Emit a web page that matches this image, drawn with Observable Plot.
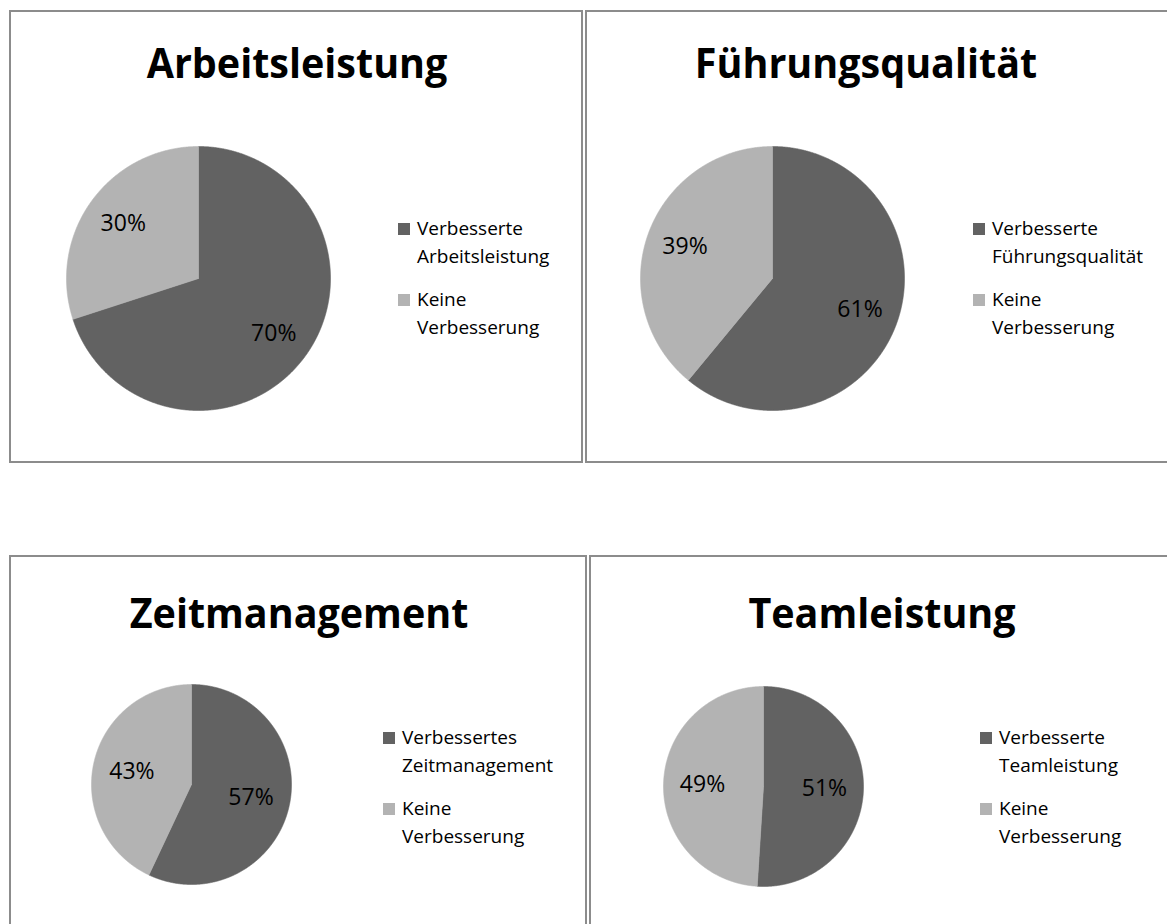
<!DOCTYPE html>
<html><head><meta charset="utf-8">
<script src="https://cdn.jsdelivr.net/npm/d3@7"></script>
<script src="https://cdn.jsdelivr.net/npm/@observablehq/plot@0.6"></script>
<style>
html,body{margin:0;padding:0;background:#fff;}
body{width:1167px;height:924px;overflow:hidden;position:relative;font-family:"Open Sans",sans-serif;color:#000;}
.panel{position:absolute;box-sizing:border-box;border:2px solid #8c8c8c;}
.abs{position:absolute;}
.title{font-weight:700;font-size:42px;line-height:42px;white-space:nowrap;transform:translateX(-50%) scaleX(0.94);transform-origin:50% 0;}
.leg{font-size:19px;line-height:28px;white-space:pre;}
.sw{position:absolute;width:12px;height:12px;}
</style></head><body>
<script>
// ---- data ----
const titles = ["Arbeitsleistung", "Führungsqualität", "Zeitmanagement", "Teamleistung"];
const improvedLabels = ["Verbesserte\nArbeitsleistung", "Verbesserte\nFührungsqualität", "Verbessertes\nZeitmanagement", "Verbesserte\nTeamleistung"];
const noneLabel = "Keine\nVerbesserung";
const improvedValues = [70, 61, 57, 51];
const noneValues = [30, 39, 43, 49];
const colors = ["#626262", "#b3b3b3"];

// ---- layout (px) ----
const layout = [
  {px: 9,   py: 10,  pw: 574, ph: 453, cx: 189,   cy: 267.5, r: 132, tx: 288, tb: 68, lx: 389, lb: 225.3},
  {px: 585, py: 10,  pw: 640, ph: 453, cx: 187,   cy: 268,   r: 132, tx: 281, tb: 68, lx: 388, lb: 225.3},
  {px: 9,   py: 555, pw: 578, ph: 420, cx: 181.7, cy: 229,   r: 100, tx: 290, tb: 73, lx: 374, lb: 189},
  {px: 589, py: 555, pw: 640, ph: 420, cx: 174,   cy: 231,   r: 100, tx: 293, tb: 73, lx: 391, lb: 189}
];

function el(cls, left, top, text) {
  const d = document.createElement("div");
  d.className = cls;
  d.style.left = left + "px";
  d.style.top = top + "px";
  if (text != null) d.textContent = text;
  document.body.appendChild(d);
  return d;
}

function piePlot(values, r) {
  const arcs = d3.pie().sort(null)(values);
  const pts = [];
  arcs.forEach((a, i) => {
    const n = Math.max(4, Math.ceil((a.endAngle - a.startAngle) / 0.005));
    pts.push({k: i, x: 0, y: 0});
    for (let j = 0; j <= n; j++) {
      const t = a.startAngle + (a.endAngle - a.startAngle) * j / n;
      pts.push({k: i, x: Math.sin(t), y: Math.cos(t)});
    }
    pts.push({k: i, x: 0, y: 0});
  });
  const f = 1 - 39 / r;
  return Plot.plot({
    width: 2 * r, height: 2 * r, margin: 0,
    x: {domain: [-1, 1], axis: null},
    y: {domain: [-1, 1], axis: null},
    color: {type: "ordinal", domain: [0, 1], range: colors},
    style: {fontFamily: "'Open Sans', sans-serif", background: "transparent", overflow: "visible"},
    marks: [
      Plot.line(pts, {x: "x", y: "y", z: "k", fill: "k", stroke: "k", strokeWidth: 0.6, curve: "linear"}),
      Plot.text(arcs, {
        x: a => f * Math.sin((a.startAngle + a.endAngle) / 2),
        y: a => f * Math.cos((a.startAngle + a.endAngle) / 2),
        text: a => a.data + "%",
        fontSize: 23, fill: "#000"
      })
    ]
  });
}

titles.forEach((t, i) => {
  const L = layout[i];
  const p = el("panel", L.px, L.py);
  p.style.width = L.pw + "px";
  p.style.height = L.ph + "px";
  // title (baseline ≈ top + 0.888em)
  el("abs title", L.px + L.tx, L.py + L.tb - 0.888 * 42, t);
  // pie
  const svg = piePlot([improvedValues[i], noneValues[i]], L.r);
  const holder = el("abs", L.px + L.cx - L.r, L.py + L.cy - L.r);
  holder.appendChild(svg);
  // legend
  const labels = [improvedLabels[i], noneLabel];
  labels.forEach((lab, k) => {
    const base = L.lb + k * 71.4;
    const sw = el("sw", L.px + L.lx, L.py + base - 12.3);
    sw.style.background = colors[k];
    el("abs leg", L.px + L.lx + 19, L.py + base - 21.4, lab);
  });
});
</script>
</body></html>
